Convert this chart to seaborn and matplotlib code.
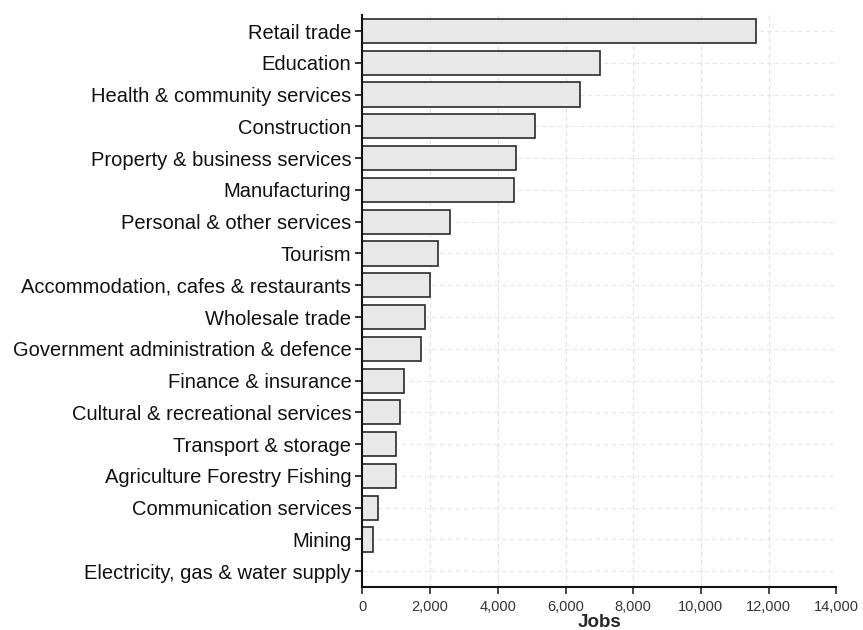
import pandas as pd
import matplotlib
matplotlib.use('Agg')
import matplotlib.pyplot as plt
import seaborn as sns

industries = ['Retail trade', 'Education', 'Health & community services',
              'Construction', 'Property & business services', 'Manufacturing',
              'Personal & other services', 'Tourism',
              'Accommodation, cafes & restaurants', 'Wholesale trade',
              'Government administration & defence', 'Finance & insurance',
              'Cultural & recreational services', 'Transport & storage',
              'Agriculture Forestry Fishing', 'Communication services',
              'Mining', 'Electricity, gas & water supply']
jobs = [11630, 7030, 6420, 5100, 4530, 4480, 2600, 2240, 1990, 1850,
        1730, 1220, 1110, 985, 985, 460, 310, 0]
xticks = [0, 2000, 4000, 6000, 8000, 10000, 12000, 14000]

df = pd.DataFrame({'Industry': industries, 'Jobs': jobs})

sns.set_style('white')
plt.rcParams['font.family'] = ['Liberation Sans', 'DejaVu Sans']

fig = plt.figure(figsize=(8.63, 6.3), dpi=100)
ax = fig.add_axes([0.420, 0.068, 0.549, 0.908])

sns.barplot(data=df, x='Jobs', y='Industry', orient='h', color='#e8e8e8',
            edgecolor='#2a2a2a', linewidth=1.2, width=0.76, ax=ax,
            saturation=1)

# faint dashed grid like the scanned original
ax.set_axisbelow(True)
for xv in xticks[1:]:
    ax.axvline(xv, color='#e0e0e0', lw=0.8, ls=(0, (4, 3)), zorder=0)
for i in range(len(industries)):
    ax.axhline(i, color='#e6e6e6', lw=0.8, ls=(0, (4, 3)), zorder=0)

ax.set_xlim(0, 14000)
ax.set_ylim(len(industries) - 0.5, -0.5)
ax.set_xticks(xticks)
ax.set_xticklabels([f'{v:,}' for v in xticks], fontsize=10.5, color='#333333')
ax.tick_params(axis='y', labelsize=14.5, length=5, width=1.2, pad=3,
               left=True, colors='#111111')
ax.tick_params(axis='x', length=5, width=1.2, pad=4, bottom=True)
ax.set_ylabel('')
ax.set_xlabel('Jobs', fontsize=13.5, fontweight='bold', labelpad=0)

sns.despine(ax=ax, top=True, right=True)
ax.spines['left'].set_linewidth(1.5)
ax.spines['bottom'].set_linewidth(1.5)
ax.spines['left'].set_color('#111111')
ax.spines['bottom'].set_color('#111111')

plt.savefig('out.png', dpi=100)
